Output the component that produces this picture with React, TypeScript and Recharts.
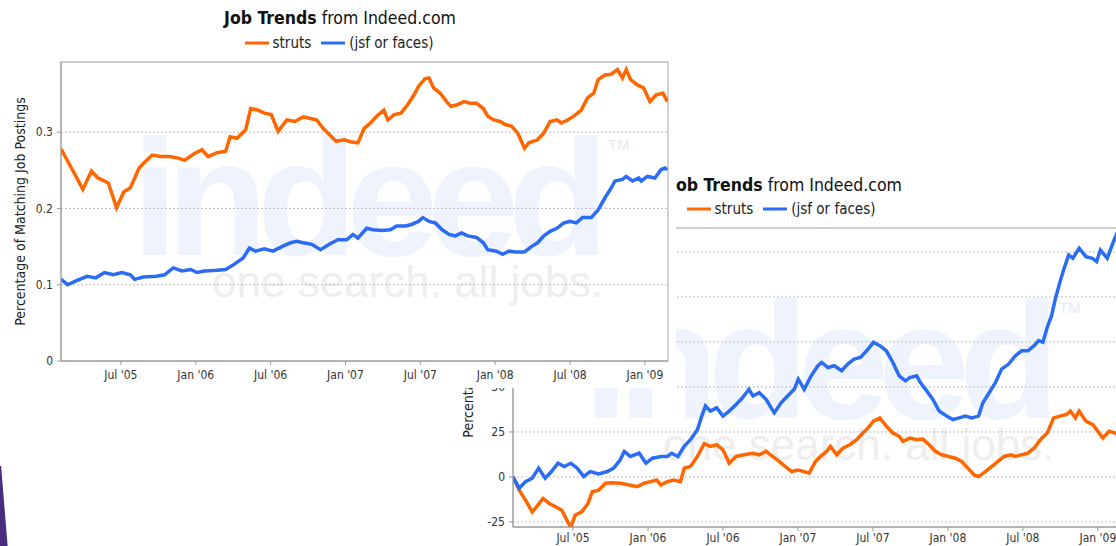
import { LineChart, Line, XAxis, YAxis, CartesianGrid, Legend, ReferenceArea } from "recharts";

// x values are months since Jan 2005 (6 = Jul '05, 12 = Jan '06 ...)
const tickMonths = [6, 12, 18, 24, 30, 36, 42, 48];
const tickLabels = ["Jul '05", "Jan '06", "Jul '06", "Jan '07", "Jul '07", "Jan '08", "Jul '08", "Jan '09"];

const seriesNames = ["struts", "(jsf or faces)"];

// top chart: percentage of matching job postings
const strutsShareMonths = [1.21, 1.9, 2.4, 2.95, 3.64, 4.16, 4.68, 5.0, 5.65, 6.24, 6.76, 7.46, 7.8, 8.5, 9.2, 9.9, 10.6, 11.1, 11.8, 12.5, 13.0, 13.7, 14.4, 14.75, 15.3, 16.0, 16.4, 17.0, 17.5, 18.05, 18.6, 19.3, 19.95, 20.6, 21.2, 21.7, 22.2, 22.7, 23.25, 23.9, 24.5, 25.0, 25.5, 26.0, 26.5, 27.07, 27.4, 27.9, 28.45, 28.98, 29.5, 29.85, 30.37, 30.7, 31.06, 31.6, 32.1, 32.45, 32.97, 33.5, 34.0, 34.5, 35.05, 35.4, 35.9, 36.4, 36.8, 37.3, 37.8, 38.35, 38.7, 39.4, 39.9, 40.4, 40.95, 41.3, 41.8, 42.3, 42.9, 43.4, 43.9, 44.25, 44.8, 45.3, 45.8, 46.2, 46.5, 46.85, 47.4, 47.9, 48.4, 48.9, 49.45, 49.8];
const strutsShare = [0.278, 0.257, 0.242, 0.225, 0.249, 0.24, 0.236, 0.233, 0.201, 0.222, 0.227, 0.253, 0.259, 0.27, 0.268, 0.268, 0.266, 0.263, 0.271, 0.277, 0.268, 0.273, 0.275, 0.294, 0.292, 0.303, 0.331, 0.329, 0.325, 0.323, 0.301, 0.316, 0.314, 0.32, 0.318, 0.316, 0.305, 0.297, 0.288, 0.29, 0.287, 0.286, 0.305, 0.312, 0.321, 0.329, 0.316, 0.323, 0.325, 0.336, 0.349, 0.36, 0.37, 0.371, 0.358, 0.351, 0.34, 0.334, 0.336, 0.34, 0.338, 0.338, 0.331, 0.321, 0.316, 0.314, 0.31, 0.308, 0.299, 0.279, 0.286, 0.29, 0.299, 0.314, 0.316, 0.312, 0.316, 0.321, 0.329, 0.345, 0.351, 0.369, 0.375, 0.376, 0.382, 0.371, 0.382, 0.369, 0.362, 0.358, 0.34, 0.349, 0.351, 0.34];

const facesShareMonths = [1.21, 1.73, 2.4, 3.3, 3.99, 4.68, 5.4, 6.07, 6.76, 7.1, 7.8, 8.85, 9.5, 10.2, 10.9, 11.6, 12.1, 12.7, 13.7, 14.4, 15.1, 15.8, 16.3, 16.8, 17.5, 18.2, 18.9, 19.6, 20.1, 20.6, 21.3, 22.0, 22.7, 23.4, 24.1, 24.6, 25.0, 25.7, 26.2, 26.9, 27.6, 28.1, 28.8, 29.3, 29.85, 30.2, 30.7, 31.2, 31.75, 32.3, 32.8, 33.3, 33.8, 34.5, 35.05, 35.4, 36.1, 36.6, 37.1, 37.65, 38.35, 38.9, 39.4, 39.9, 40.4, 40.95, 41.5, 42.0, 42.5, 43.0, 43.7, 44.25, 44.8, 45.3, 45.6, 46.2, 46.5, 47.0, 47.5, 47.7, 48.2, 48.8, 49.3, 49.6, 49.8];
const facesShare = [0.107, 0.1, 0.105, 0.111, 0.109, 0.116, 0.113, 0.116, 0.113, 0.107, 0.11, 0.111, 0.113, 0.122, 0.118, 0.12, 0.116, 0.118, 0.119, 0.12, 0.127, 0.135, 0.148, 0.144, 0.147, 0.144, 0.15, 0.155, 0.157, 0.155, 0.153, 0.146, 0.153, 0.159, 0.159, 0.166, 0.161, 0.174, 0.172, 0.171, 0.172, 0.177, 0.177, 0.179, 0.183, 0.188, 0.183, 0.181, 0.172, 0.166, 0.164, 0.168, 0.164, 0.162, 0.155, 0.146, 0.144, 0.14, 0.144, 0.143, 0.143, 0.15, 0.155, 0.164, 0.17, 0.174, 0.181, 0.183, 0.181, 0.188, 0.188, 0.198, 0.214, 0.227, 0.236, 0.238, 0.242, 0.236, 0.24, 0.236, 0.242, 0.24, 0.251, 0.253, 0.251];

// bottom chart: percentage growth
const strutsGrowthMonths = [1.2, 1.7, 2.2, 2.74, 3.08, 3.6, 4.1, 4.6, 5.1, 5.66, 5.83, 6.17, 6.7, 7.2, 7.55, 8.06, 8.6, 9.1, 9.8, 10.5, 11.15, 11.7, 12.2, 12.7, 13.04, 13.55, 14.07, 14.6, 14.9, 15.4, 15.96, 16.5, 17.0, 17.5, 18.0, 18.5, 19.05, 19.7, 20.4, 20.9, 21.45, 21.97, 22.5, 23.0, 23.5, 24.0, 24.5, 24.9, 25.4, 25.75, 26.3, 26.6, 27.1, 27.6, 28.15, 28.7, 29.2, 29.5, 30.04, 30.55, 31.07, 31.6, 32.1, 32.4, 32.95, 33.5, 34.0, 34.5, 35.0, 35.5, 36.05, 36.6, 37.1, 37.6, 38.1, 38.45, 39.0, 39.5, 40.0, 40.5, 41.05, 41.4, 41.9, 42.4, 42.9, 43.4, 43.95, 44.46, 44.97, 45.5, 45.8, 46.2, 46.5, 47.04, 47.6, 47.9, 48.4, 48.9, 49.4, 49.8];
const strutsGrowth = [0, -7.3, -12.9, -19.4, -16.6, -11.9, -14.7, -16.6, -18.5, -25.9, -27.8, -21.3, -19.4, -14.7, -8.2, -7.3, -3.5, -3.2, -3.5, -4.5, -5.4, -3.5, -2.6, -1.7, -4.5, -2.6, -1.7, -2.6, 4.9, 5.8, 11.4, 18.5, 17, 17.9, 15.1, 7.6, 11.4, 12.3, 13.2, 12.3, 14.2, 11.4, 8.6, 5.8, 3.0, 3.9, 3.0, 2.1, 8.6, 11.0, 14.2, 17, 12.3, 16.0, 17.9, 20.7, 24.4, 26.3, 31, 32.8, 28.2, 24.4, 22.6, 19.8, 21.6, 20.7, 21.1, 17.9, 14.2, 12.3, 11.4, 10.4, 8.6, 4.9, 1.1, 0.2, 3.0, 5.8, 8.6, 11.4, 12.3, 11.4, 12.3, 13.2, 16.0, 20.7, 24.4, 32.8, 33.8, 34.7, 36.6, 32.8, 36.6, 31, 29.1, 26.3, 21.6, 25.4, 24.4, 21.6];

const facesGrowthMonths = [1.2, 1.7, 2.2, 2.74, 3.25, 3.77, 4.28, 4.8, 5.3, 5.83, 6.34, 6.86, 7.37, 8.06, 8.75, 9.26, 9.78, 10.1, 10.6, 11.3, 11.84, 12.35, 13.04, 13.55, 13.9, 14.4, 14.9, 15.4, 15.96, 16.3, 16.6, 16.99, 17.5, 18.0, 18.5, 19.05, 19.56, 20.08, 20.4, 20.9, 21.45, 22.1, 22.65, 23.17, 23.7, 24.03, 24.5, 25.06, 25.6, 25.9, 26.4, 26.9, 27.5, 27.98, 28.5, 29.0, 29.5, 30.04, 30.55, 31.07, 31.6, 32.1, 32.6, 32.95, 33.5, 33.8, 34.3, 34.8, 35.3, 35.9, 36.4, 36.9, 37.4, 37.9, 38.45, 38.8, 39.3, 39.8, 40.3, 40.86, 41.4, 41.9, 42.4, 42.9, 43.26, 43.6, 43.95, 44.3, 44.6, 44.97, 45.3, 45.66, 46.0, 46.5, 47.04, 47.55, 47.9, 48.2, 48.75, 49.3, 49.6, 49.85];
const facesGrowth = [0, -6.3, -2.6, -0.7, 4.9, -0.7, 3.0, 7.6, 5.8, 7.6, 4.9, 0.2, 3.0, 1.7, 3.0, 4.9, 9.5, 14.2, 11.4, 13.2, 7.6, 10.4, 11.4, 11.4, 13.2, 11.4, 17, 20.7, 26.3, 33.8, 39.4, 36.6, 38.4, 33.8, 36.6, 40.3, 44.0, 48.7, 45.0, 46.8, 43.1, 35.6, 41.2, 45.0, 48.7, 54.3, 48.7, 56.2, 61.8, 63.6, 60.8, 61.8, 59.0, 62.7, 65.5, 66.4, 70.1, 74.8, 72.9, 70.1, 63.6, 56.2, 53.4, 55.2, 56.2, 52.4, 47.8, 43.1, 36.6, 33.8, 31.9, 32.8, 33.8, 32.8, 33.8, 41.2, 46.8, 52.4, 59.9, 62.7, 67.4, 70.1, 70.1, 72.9, 75.7, 74.8, 83.2, 89.7, 99.1, 108.4, 115.9, 123.3, 121.5, 127.1, 122.4, 121.5, 119.6, 126.1, 121.5, 131.7, 136.4, 135.4];

const shareTicks = [0, 0.1, 0.2, 0.3];
const growthTicks = [-25, 0, 25, 50, 75, 100, 125];

const ORANGE = "#ff6600";
const BLUE = "#2b6cf5";
const FONT = "'DejaVu Sans Condensed', 'DejaVu Sans', sans-serif";
const X_DOMAIN: [number, number] = [1.2, 49.85];

const zip = (ms: number[], vs: number[]) => ms.map((m, i) => ({ m, v: vs[i] }));

const fmtMonth = (m: number) => tickLabels[tickMonths.indexOf(m)] ?? "";

function Watermark({ left, top }: { left: number; top: number }) {
  const face = "'Liberation Sans', Arial, sans-serif";
  return (
    <>
      <div style={{ position: "absolute", left, top, fontFamily: face, fontWeight: 700, fontSize: 165, lineHeight: "120px", letterSpacing: -11, color: "#eef3fd", whiteSpace: "nowrap" }}>
        indeed
      </div>
      <div style={{ position: "absolute", left: left + 80, top: top + 122, fontFamily: face, fontSize: 44, lineHeight: "44px", color: "#eeeeee", whiteSpace: "nowrap" }}>
        one search. all jobs.
      </div>
      <div style={{ position: "absolute", left: left + 476, top: top - 1, fontFamily: face, fontSize: 15, lineHeight: "16px", color: "#e4e9f4" }}>
        TM
      </div>
    </>
  );
}

interface TrendProps {
  width: number;
  height: number;
  top: number;
  right: number;
  yAxisWidth: number;
  xAxisHeight: number;
  xTickMargin: number;
  yDomain: [number, number];
  yTicks: number[];
  yFormat: (v: number) => string;
  yLabel: string;
  labelDx: number;
  legendTop: number;
  legendWidth: number;
  struts: { m: number; v: number }[];
  faces: { m: number; v: number }[];
}

function TrendChart(p: TrendProps) {
  const tickStyle = { fontSize: 12, fill: "#333" };
  return (
    <LineChart width={p.width} height={p.height} margin={{ top: p.top, right: p.right, bottom: 0, left: 0 }}>
      <CartesianGrid vertical={false} stroke="#bdbdbd" strokeDasharray="2 2" />
      <ReferenceArea x1={X_DOMAIN[0]} x2={X_DOMAIN[1]} y1={p.yDomain[0]} y2={p.yDomain[1]} fill="none" stroke="#c4c4c4" strokeWidth={1.5} />
      <XAxis
        dataKey="m"
        type="number"
        domain={X_DOMAIN}
        allowDataOverflow
        ticks={tickMonths}
        tickFormatter={fmtMonth}
        height={p.xAxisHeight}
        tickSize={4}
        tickMargin={p.xTickMargin}
        tick={tickStyle}
        stroke="#999"
      />
      <YAxis
        type="number"
        domain={p.yDomain}
        allowDataOverflow
        ticks={p.yTicks}
        tickFormatter={p.yFormat}
        width={p.yAxisWidth}
        tickSize={4}
        tickMargin={4}
        tick={tickStyle}
        stroke="#999"
        label={{ value: p.yLabel, angle: -90, position: "center", dx: p.labelDx, style: { textAnchor: "middle", fontSize: 14, fill: "#222" } }}
      />
      <Legend
        verticalAlign="middle"
        align="center"
        iconType="plainline"
        iconSize={24}
        itemSorter={(item: any) => seriesNames.indexOf(item.value)}
        wrapperStyle={{ top: p.legendTop, left: 0, width: p.legendWidth }}
        formatter={(value) => <span style={{ color: "#222", fontSize: 15 }}>{value}</span>}
      />
      <Line data={p.struts} dataKey="v" name={seriesNames[0]} stroke={ORANGE} strokeWidth={3.5} dot={false} isAnimationActive={false} />
      <Line data={p.faces} dataKey="v" name={seriesNames[1]} stroke={BLUE} strokeWidth={3.5} dot={false} isAnimationActive={false} />
    </LineChart>
  );
}

function Title({ width, top }: { width: number; top: number }) {
  return (
    <div style={{ position: "absolute", left: 0, top, width, textAlign: "center", fontSize: 17.5, color: "#111", whiteSpace: "nowrap" }}>
      <b>Job Trends</b> from Indeed.com
    </div>
  );
}

export default function App() {
  return (
    <div style={{ position: "fixed", left: 0, top: 0, width: 1116, height: 546, overflow: "hidden", background: "#fff", fontFamily: FONT }}>
      {/* relative growth chart, partly hidden behind the first one */}
      <div style={{ position: "absolute", left: 440, top: 170, width: 690, height: 376, background: "#fff", zIndex: 1 }}>
        <Watermark left={143} top={131} />
        <Title width={692} top={5} />
        <div style={{ position: "absolute", left: 0, top: 0 }}>
          <TrendChart
            width={690}
            height={376}
            top={58}
            right={9}
            yAxisWidth={73}
            xAxisHeight={19}
            xTickMargin={2}
            yDomain={[-27.8, 138.3]}
            yTicks={growthTicks}
            yFormat={(v) => (v <= 50 ? String(v) : "")}
            yLabel="Percentage Growth"
            labelDx={-8.5}
            legendTop={27}
            legendWidth={692}
            struts={zip(strutsGrowthMonths, strutsGrowth)}
            faces={zip(facesGrowthMonths, facesGrowth)}
          />
        </div>
      </div>

      {/* absolute share chart */}
      <div style={{ position: "absolute", left: 0, top: 0, width: 676, height: 388, background: "#fff", zIndex: 2, overflow: "hidden" }}>
        <Watermark left={132} top={138} />
        <Title width={680} top={8} />
        <div style={{ position: "absolute", left: 0, top: 0 }}>
          <TrendChart
            width={676}
            height={383}
            top={62}
            right={8}
            yAxisWidth={61}
            xAxisHeight={22}
            xTickMargin={5}
            yDomain={[0, 0.392]}
            yTicks={shareTicks}
            yFormat={(v) => (v === 0 ? "0" : v.toFixed(1))}
            yLabel="Percentage of Matching Job Postings"
            labelDx={-10.5}
            legendTop={31}
            legendWidth={688}
            struts={zip(strutsShareMonths, strutsShare)}
            faces={zip(facesShareMonths, facesShare)}
          />
        </div>
      </div>

      {/* slide background edge */}
      <div style={{ position: "absolute", left: 0, top: 466, width: 9, height: 80, background: "#4b2d7f", clipPath: "polygon(0 0, 12% 0, 85% 100%, 0 100%)" }} />
    </div>
  );
}
